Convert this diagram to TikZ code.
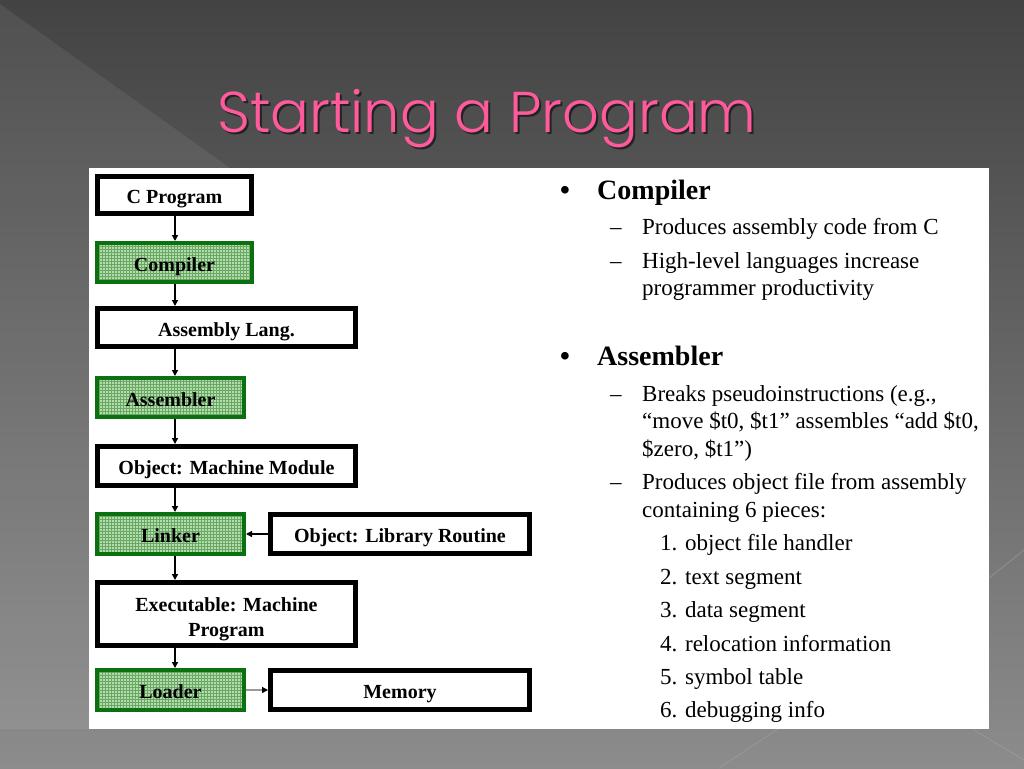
\documentclass[tikz,border=0pt]{standalone}
\usepackage{fontspec}
\setmainfont{Liberation Serif}
\newfontfamily\titlefont{Poppins Light}
\usetikzlibrary{arrows.meta,patterns}
\definecolor{bgtop}{HTML}{434343}
\definecolor{bgmid}{HTML}{575757}
\definecolor{bgbot}{HTML}{8C8C8C}
\definecolor{titlepink}{HTML}{FF5A9C}
\definecolor{boxgreen}{HTML}{0A7010}
\definecolor{lightgreen}{HTML}{B4DCAE}
\definecolor{gridgreen}{HTML}{68A862}
\begin{document}
\begin{tikzpicture}[x=1pt,y=-1pt,
  boxfont/.style={font=\fontsize{20}{25}\selectfont\bfseries},
  blackbox/.style={draw=black,line width=5pt,fill=white,inner sep=0pt,align=center,
    boxfont,text height=22pt,text depth=4.5pt},
  greenbox/.style={draw=boxgreen,line width=4pt,preaction={fill=lightgreen},pattern=grid,
    pattern color=gridgreen,inner sep=0pt,boxfont,text height=22pt,text depth=4.5pt},
  arr/.style={line width=1.3pt,-{Triangle[length=6pt,width=6pt]}},
  body/.style={anchor=base west,inner sep=0pt,font=\fontsize{23}{27}\selectfont},
  head/.style={anchor=base west,inner sep=0pt,font=\fontsize{28}{32}\selectfont\bfseries}]
% background
\useasboundingbox (0,0) rectangle (1024,768);
\shade[top color=bgtop,middle color=bgmid,bottom color=bgbot] (0,0) rectangle (1024,768);
\fill[white,opacity=0.07] (0,4) -- (230,168) -- (89,168) -- (89,729) -- (0,729) -- cycle;
\draw[white,opacity=0.18,line width=0.8pt] (989,578) -- (1024,550);
\draw[white,opacity=0.12,line width=0.8pt] (974,730) -- (1024,760);
\draw[white,opacity=0.12,line width=0.8pt] (719,768) -- (778,729);
% title
\node[anchor=base west,inner sep=0pt,text=black,opacity=0.55,font=\titlefont\fontsize{57.5}{60}\selectfont] (titleshadow) at (219,134) {Starting a Program};
\node[anchor=base west,inner sep=0pt,text=titlepink,font=\titlefont\fontsize{57.5}{60}\selectfont] (title) at (217,132) {Starting a Program};
% panel
\fill[white] (89,168) rectangle (989,729);
% flowchart
\coordinate (spine) at (175,0);
\node[blackbox,minimum width=154pt,minimum height=37pt] (cprog) at (174.5,195) {C Program};
\node[greenbox,minimum width=155pt,minimum height=39pt] (comp) at (174.5,262.5) {Compiler};
\node[blackbox,minimum width=258pt,minimum height=38pt] (asml) at (226.5,327.5) {Assembly Lang.};
\node[greenbox,minimum width=147pt,minimum height=39pt] (asmr) at (170.5,397.5) {Assembler};
\node[blackbox,minimum width=258pt,minimum height=39pt] (objmm) at (226.5,466) {Object: Machine Module};
\node[greenbox,minimum width=147pt,minimum height=40pt] (linker) at (170.5,534) {Linker};
\node[blackbox,minimum width=259pt,minimum height=39pt] (lib) at (400,534) {Object: Library Routine};
\node[blackbox,minimum width=258pt,minimum height=63pt] (exe) at (226.5,614) {};
\node[inner sep=0pt,align=center,boxfont] (exetext) at (226.5,619) {Executable: Machine\\Program};
\node[greenbox,minimum width=147pt,minimum height=40pt] (loader) at (170.5,690) {Loader};
\node[blackbox,minimum width=259pt,minimum height=39pt] (mem) at (400,690) {Memory};
\draw[arr] (cprog.south -| spine) -- (comp.north -| spine);
\draw[arr] (comp.south -| spine) -- (asml.north -| spine);
\draw[arr] (asml.south -| spine) -- (asmr.north -| spine);
\draw[arr] (asmr.south -| spine) -- (objmm.north -| spine);
\draw[arr] (objmm.south -| spine) -- (linker.north -| spine);
\draw[arr] (linker.south -| spine) -- (exe.north -| spine);
\draw[arr] (exe.south -| spine) -- (loader.north -| spine);
\draw[arr] (lib.west) -- (linker.east);
\draw[line width=1.3pt,draw=black!40,-{Triangle[length=6pt,width=6pt,black]}] (loader.east) -- (mem.west);
% text
\node[head] (b1) at (560,199) {•};
\node[head] (h1) at (597,199) {Compiler};
\node[body] (d1) at (610,234) {–};
\node[body] (t1) at (642,234) {Produces assembly code from C};
\node[body] (d2) at (610,268) {–};
\node[body] (t2) at (642,268) {High-level languages increase};
\node[body] (t2b) at (642,295) {programmer productivity};
\node[head] (b2) at (560,365) {•};
\node[head] (h2) at (597,365) {Assembler};
\node[body] (d3) at (610,401) {–};
\node[body] (t3) at (642,401) {Breaks pseudoinstructions (e.g.,};
\node[body] (t3b) at (642,428) {“move \$t0, \$t1” assembles “add \$t0,};
\node[body] (t3c) at (642,456) {\$zero, \$t1”)};
\node[body] (d4) at (610,489) {–};
\node[body] (t4) at (642,489) {Produces object file from assembly};
\node[body] (t4b) at (642,517) {containing 6 pieces:};
\node[body] (n1) at (660,550) {1. object file handler};
\node[body] (n2) at (660,584) {2. text segment};
\node[body] (n3) at (660,617) {3. data segment};
\node[body] (n4) at (660,651) {4. relocation information};
\node[body] (n5) at (660,684) {5. symbol table};
\node[body] (n6) at (660,717) {6. debugging info};
\end{tikzpicture}
\end{document}
